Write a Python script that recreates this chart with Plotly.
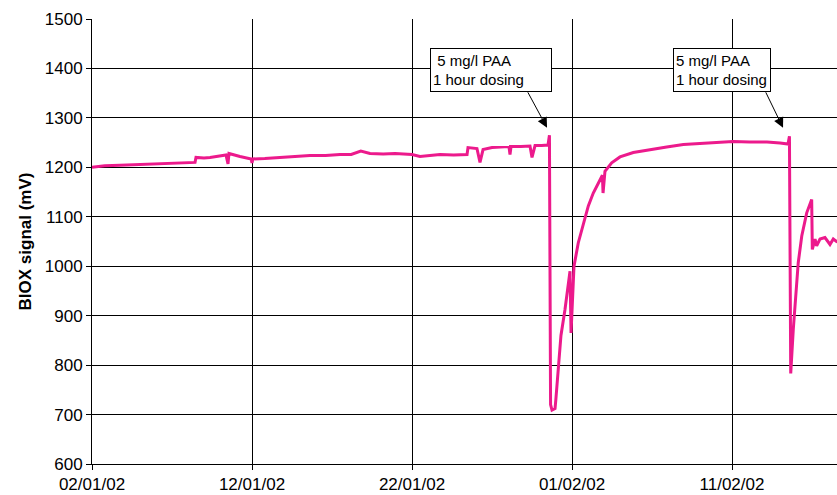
import pandas as pd
import plotly.graph_objects as go

# ---- data ----
start_date = "2002-01-02"
days = [0.0, 0.8, 1.75, 2.6, 3.625, 4.5, 5.5, 6.1, 6.44, 6.5, 7.0, 7.375, 7.9, 8.375, 8.5, 8.56, 9.25,
        9.95, 10.0, 10.06, 10.8, 11.75, 12.7, 13.625, 14.6, 15.5, 16.2, 16.8, 17.375, 18.2, 18.94,
        20.0, 20.5, 21.1, 21.75, 22.6, 23.44, 23.5, 24.06, 24.25, 24.44, 25.0, 25.5, 26.06, 26.125,
        26.19, 26.8, 27.375, 27.5, 27.69, 28.1, 28.5, 28.59, 28.66, 28.75, 28.94, 28.99, 29.125,
        29.31, 29.56, 29.75, 29.875, 29.94, 30.125, 30.39, 30.71, 31.02, 31.33, 31.75, 31.9, 31.94,
        32.06, 32.48, 33.0, 33.83, 34.875, 35.92, 36.96, 38.0, 39.0, 40.06, 41.1, 42.19, 43.0,
        43.5, 43.59, 43.67, 43.83, 43.98, 44.14, 44.36, 44.67, 44.98, 45.02, 45.19, 45.29, 45.5,
        45.81, 46.125, 46.33, 46.54, 46.75]
signal_mv = [1200, 1203, 1204, 1205, 1206, 1207, 1208, 1209, 1210, 1220, 1219, 1220, 1222, 1225, 1207,
             1228, 1222, 1217, 1209, 1217, 1218, 1220, 1222, 1224, 1224, 1226, 1226, 1233, 1228, 1227,
             1228, 1226, 1222, 1224, 1226, 1225, 1226, 1240, 1238, 1210, 1236, 1240, 1241, 1242, 1226,
             1242, 1242, 1243, 1220, 1244, 1244, 1245, 1265, 720, 709, 712, 730, 790,
             860, 912, 965, 990, 865, 1000, 1047, 1088, 1122, 1148, 1176, 1184, 1148,
             1192, 1209, 1221, 1230, 1236, 1241, 1246, 1248, 1250, 1252, 1251, 1251, 1249,
             1247, 1263, 783, 872, 946, 1007, 1061, 1108, 1135, 1034, 1055, 1041, 1055,
             1058, 1044, 1055, 1050, 1052]

tick_step_days = 10
y_min, y_max, y_step = 600, 1500, 100
visible_days = 46.5625

note_text = "&nbsp;5 mg/l PAA<br>1 hour dosing"
note2_text = "5 mg/l PAA<br>1 hour dosing"
# (box left day, box top mV, arrow tip day, arrow tip mV)
note_positions = [(21.125, 1441, 28.44, 1280), (36.31, 1441, 43.19, 1280)]

base = pd.Timestamp(start_date)
x_dates = base + pd.to_timedelta(days, unit="D")

FONT = "Liberation Sans, Arial, sans-serif"
fig = go.Figure()
fig.add_trace(go.Scatter(
    x=x_dates, y=signal_mv, mode="lines",
    line=dict(color="#EC1A8C", width=3),
    showlegend=False,
))

annotations = []
for i, (bx, by, tx, ty) in enumerate(note_positions):
    annotations.append(dict(
        x=base + pd.Timedelta(days=bx), y=by, xref="x", yref="y",
        xanchor="left", yanchor="top",
        text=note_text if i == 0 else note2_text,
        showarrow=False, align="left",
        bordercolor="black", borderwidth=1, borderpad=2, bgcolor="white",
        width=116 if i == 0 else 92, height=38,
        font=dict(family=FONT, size=15, color="black"),
    ))
    annotations.append(dict(
        x=base + pd.Timedelta(days=tx), y=ty, xref="x", yref="y",
        text="", showarrow=True, ax=-20 if i == 0 else -18, ay=-37,
        arrowhead=2, arrowsize=2, arrowwidth=1, arrowcolor="black",
    ))

fig.update_layout(
    width=837, height=495,
    margin=dict(l=92, r=0, t=19, b=31),
    paper_bgcolor="white", plot_bgcolor="white",
    font=dict(family=FONT, size=17, color="black"),
    annotations=annotations,
)
fig.update_xaxes(
    type="date",
    range=[base, base + pd.Timedelta(days=visible_days)],
    tick0=base, dtick=tick_step_days * 86400000,
    tickformat="%d/%m/%y",
    showgrid=True, gridcolor="black", gridwidth=1,
    showline=True, linecolor="black", linewidth=1,
    ticks="outside", ticklen=5, tickcolor="black",
    tickfont=dict(size=17), zeroline=False,
)
fig.update_yaxes(
    range=[y_min, y_max], dtick=y_step, tick0=y_min,
    showgrid=True, gridcolor="black", gridwidth=1,
    showline=True, linecolor="black", linewidth=1,
    ticks="outside", ticklen=5, tickcolor="black",
    tickfont=dict(size=17), zeroline=False,
    title=dict(text="<b>BIOX signal (mV)</b>", font=dict(size=17), standoff=8),
)

fig.write_html("out.html")
